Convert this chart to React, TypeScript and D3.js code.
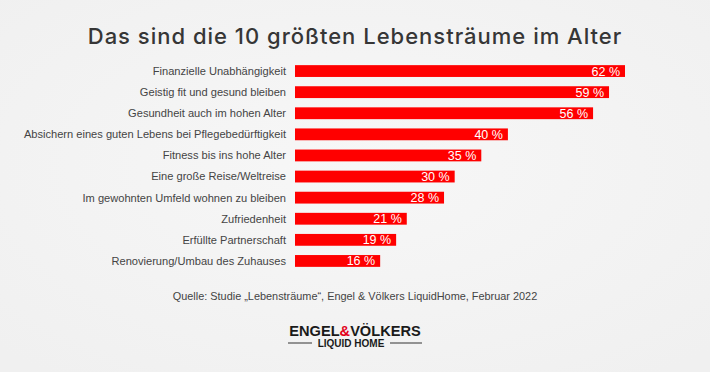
import React from "react";
import * as d3 from "d3";

const categories = [
  "Finanzielle Unabhängigkeit",
  "Geistig fit und gesund bleiben",
  "Gesundheit auch im hohen Alter",
  "Absichern eines guten Lebens bei Pflegebedürftigkeit",
  "Fitness bis ins hohe Alter",
  "Eine große Reise/Weltreise",
  "Im gewohnten Umfeld wohnen zu bleiben",
  "Zufriedenheit",
  "Erfüllte Partnerschaft",
  "Renovierung/Umbau des Zuhauses",
];
const values = [62, 59, 56, 40, 35, 30, 28, 21, 19, 16];

const title = "Das sind die 10 größten Lebensträume im Alter";
const source = "Quelle: Studie „Lebensträume“, Engel & Völkers LiquidHome, Februar 2022";

const W = 710;
const H = 372;

export default function App() {
  const x = d3.scaleLinear().domain([0, 62]).range([295, 625]);
  const y = d3
    .scaleBand<string>()
    .domain(categories)
    .range([60.5, 271.5])
    .paddingInner(0.44)
    .paddingOuter(0.22);
  const bw = y.bandwidth();
  return (
    <svg
      width={W}
      height={H}
      style={{ position: "absolute", left: 0, top: 0 }}
      fontFamily="'Liberation Sans', Arial, sans-serif"
    >
      <defs>
        <radialGradient id="bg" cx="50%" cy="45%" r="70%">
          <stop offset="0%" stopColor="#f7f7f7" />
          <stop offset="100%" stopColor="#f0f0f0" />
        </radialGradient>
      </defs>
      <rect x={0} y={0} width={W} height={H} fill="url(#bg)" />
      <text
        x={355}
        y={44}
        textAnchor="middle"
        fontFamily="Inter, 'Noto Sans', sans-serif"
        fontWeight={500}
        fontSize={22}
        letterSpacing={1}
        fill="#363636"
      >
        {title}
      </text>
      {categories.map((c, i) => {
        const yy = y(c)!;
        return (
          <g key={c}>
            <text
              x={286}
              y={yy + bw / 2}
              dy="0.35em"
              textAnchor="end"
              fontSize={11.1}
              fill="#444"
            >
              {c}
            </text>
            <rect x={x(0)} y={yy} width={x(values[i]) - x(0)} height={bw} fill="#ff0000" />
            <text
              x={x(values[i]) - 5}
              y={yy + bw / 2}
              dy="0.36em"
              textAnchor="end"
              fontSize={12.5}
              fill="#fff"
            >
              {values[i]} %
            </text>
          </g>
        );
      })}
      <text x={355} y={300} textAnchor="middle" fontSize={10.9} fill="#444">
        {source}
      </text>
      <text
        x={355}
        y={336}
        textAnchor="middle"
        fontFamily="'Liberation Sans', Arial, sans-serif"
        fontWeight={700}
        fontSize={14.6}
        fill="#1a1a1a"
      >
        ENGEL<tspan fill="#e2001a">&amp;</tspan>VÖLKERS
      </text>
      <line x1={288} x2={312} y1={343} y2={343} stroke="#333" strokeWidth={1} />
      <line x1={390} x2={422} y1={343} y2={343} stroke="#333" strokeWidth={1} />
      <text
        x={351}
        y={346.5}
        textAnchor="middle"
        fontFamily="'Liberation Sans', Arial, sans-serif"
        fontWeight={700}
        fontSize={10}
        fill="#1a1a1a"
      >
        LIQUID HOME
      </text>
    </svg>
  );
}
